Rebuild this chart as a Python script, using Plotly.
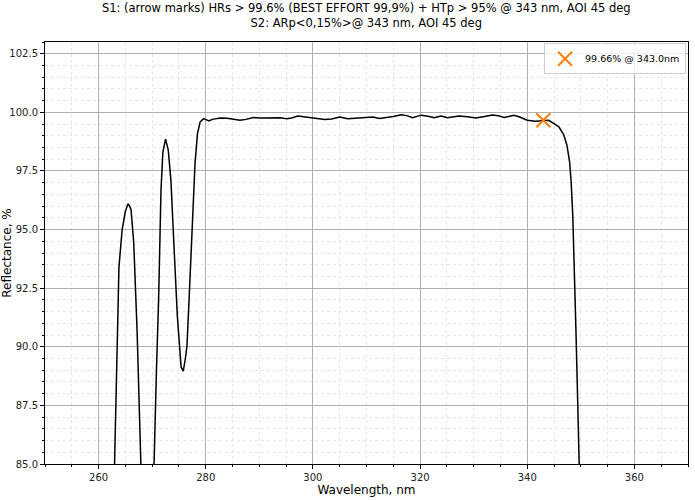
import plotly.graph_objects as go

wavelength = [262.0, 262.5, 262.9, 263.4, 263.8, 264.4, 265.0, 265.5, 265.8, 266.06, 266.56, 267.2, 267.7, 268.2,
              269.0, 269.8, 270.3, 270.8, 271.2, 271.65, 272.0, 272.5, 273.0, 273.5, 274.1, 274.7, 275.4, 275.8,
              276.2, 276.5, 277.0, 277.6, 278.0, 278.46, 278.96, 279.6, 280.2, 280.6, 281.2, 281.75, 282.7, 284.0,
              285.5, 286.4, 287.5, 288.9, 290.0, 291.4, 292.5, 293.9, 295.1, 296.0, 297.2, 298.5, 300.0, 301.0,
              302.2, 303.5, 305.0, 306.5, 308.0, 309.9, 311.2, 312.4, 313.6, 315.0, 316.5, 317.5, 318.6, 320.2,
              321.5, 322.65, 323.9, 325.1, 326.0, 327.3, 328.8, 330.4, 332.0, 333.5, 334.6, 335.7, 336.5, 337.5,
              338.6, 340.0, 341.5, 342.5, 343.4, 344.0, 345.0, 345.9, 346.8, 347.4, 347.9, 348.2, 348.5, 348.8,
              349.1, 349.4, 349.7, 350.0]
reflectance = [75.0, 80.0, 85.0, 89.5, 93.4, 95.0, 95.78, 96.1, 96.0, 95.85, 94.44, 90.6, 85.0, 80.0,
               76.0, 80.0, 85.0, 89.0, 92.0, 96.7, 98.3, 98.86, 98.4, 97.1, 94.15, 91.3, 89.14, 88.96,
               89.5, 90.06, 92.6, 95.85, 97.83, 99.1, 99.59, 99.73, 99.66, 99.63, 99.70, 99.73, 99.76, 99.75,
               99.70, 99.66, 99.70, 99.78, 99.76, 99.77, 99.75, 99.77, 99.73, 99.76, 99.84, 99.80, 99.77, 99.75,
               99.69, 99.72, 99.80, 99.73, 99.75, 99.77, 99.80, 99.74, 99.77, 99.82, 99.90, 99.86, 99.77, 99.88,
               99.83, 99.77, 99.84, 99.77, 99.80, 99.84, 99.81, 99.76, 99.82, 99.89, 99.85, 99.78, 99.82, 99.87,
               99.80, 99.66, 99.62, 99.64, 99.68, 99.66, 99.52, 99.38, 99.05, 98.6, 97.9, 97.0, 95.56, 93.44,
               90.6, 87.8, 85.1, 82.0]

marker_wl = [343.0]
marker_r = [99.66]
marker_label = "99.66% @ 343.0nm"

title_lines = ["S1: (arrow marks) HRs > 99.6% (BEST EFFORT 99,9%) + HTp > 95% @ 343 nm, AOI 45 deg",
               "S2: ARp<0,15%>@ 343 nm, AOI 45 deg"]

fig = go.Figure()
fig.add_trace(go.Scatter(x=wavelength, y=reflectance, mode="lines",
                         line=dict(color="black", width=1.5), showlegend=False))
fig.add_trace(go.Scatter(x=marker_wl, y=marker_r, mode="markers", name=marker_label,
                         marker=dict(symbol="x-thin", size=14, color="#ff7f0e",
                                     line=dict(color="#ff7f0e", width=2))))

font = "DejaVu Sans"
axis_common = dict(showline=True, linecolor="black", linewidth=1, mirror=True,
                   ticks="outside", ticklen=4, tickcolor="black", automargin=False,
                   showgrid=True, gridcolor="#b0b0b0", gridwidth=1, zeroline=False,
                   tickfont=dict(family=font, size=10, color="#222"))

fig.update_layout(
    width=695, height=500,
    margin=dict(l=45, r=7, t=42, b=36),
    paper_bgcolor="white", plot_bgcolor="white",
    font=dict(family=font, color="black"),
    title=dict(text="<br>".join(title_lines), x=0.527, xanchor="center",
               y=0.976, yanchor="top", yref="container", automargin=False,
               font=dict(family=font, size=11.5, color="black")),
    xaxis=dict(range=[250, 370], dtick=20, tick0=260,
               title=dict(text="Wavelength, nm", font=dict(family=font, size=12), standoff=0),
               minor=dict(dtick=5, ticks="outside", ticklen=2, tickcolor="black", showgrid=True,
                          gridcolor="#e6e6e6", griddash="dot"),
               **axis_common),
    yaxis=dict(range=[85, 103], dtick=2.5, tick0=85, tickformat=".1f",
               title=dict(text="Reflectance, %", font=dict(family=font, size=12), standoff=2),
               minor=dict(dtick=0.5, ticks="outside", ticklen=2, tickcolor="black", showgrid=True,
                          gridcolor="#e6e6e6", griddash="dot"),
               **axis_common),
    legend=dict(x=0.997, y=0.997, xanchor="right", yanchor="top", bgcolor="rgba(255,255,255,0.8)",
                bordercolor="#d0d0d0", borderwidth=1, font=dict(family=font, size=9.5),
                itemsizing="trace", tracegroupgap=0),
)

fig.write_html("out.html", config={"displayModeBar": False},
               post_script="document.body.style.margin='0';document.body.style.overflow='hidden';window.scrollTo(0,0);")
